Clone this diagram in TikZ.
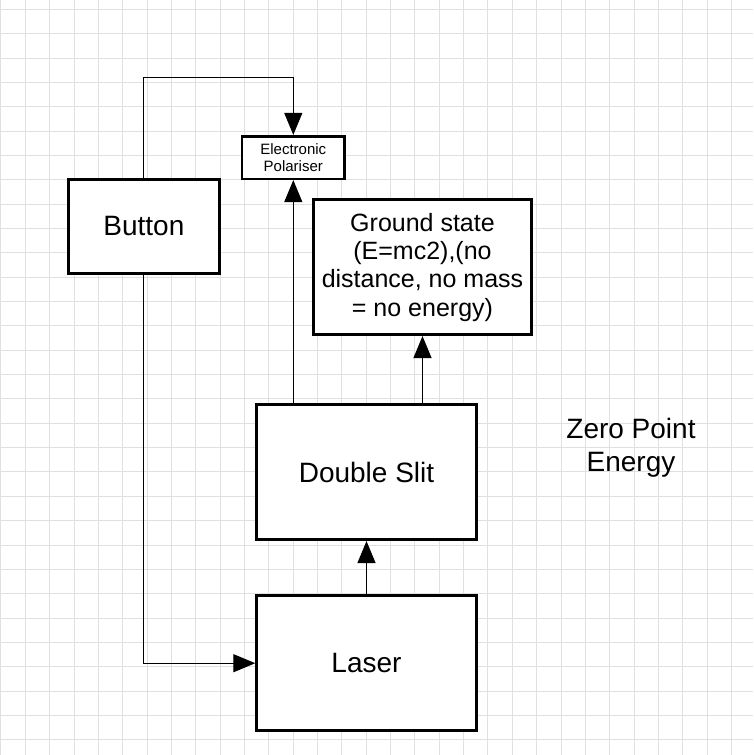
\documentclass[tikz,border=0pt]{standalone}
\usepackage{fontspec}
\setmainfont{Liberation Sans}
\usetikzlibrary{arrows.meta,calc}
\tikzset{
  gridline/.style={draw=black!12, line width=1pt},
  blk/.style={draw=black, line width=3pt, fill=white, inner sep=2pt, align=center,
    font=\fontsize{28}{32.7}\selectfont},
  conn/.style={draw=black, line width=1.1pt, -{Triangle[length=22pt,width=18pt]}},
  plain/.style={draw=black, line width=1.1pt}
}
\begin{document}
\begin{tikzpicture}[x=1pt,y=-1pt]
\useasboundingbox (0,0) rectangle (753,755);
\fill[white] (0,0) rectangle (753,755);
% grid
\foreach \i in {-1,...,30} {\draw[gridline] ({25.3+24.35*\i},0) -- ({25.3+24.35*\i},755);}
\foreach \j in {0,...,30} {\draw[gridline] (0,{9.3+24.35*\j}) -- (753,{9.3+24.35*\j});}
% nodes
\node[blk, minimum width=150.7pt, minimum height=93.4pt] (btn) at (143.85,226.5) {Button};
\node[blk, line width=2.6pt, minimum width=102.3pt, minimum height=42.6pt,
  font=\fontsize{15}{17.4}\selectfont] (pol) at (293.3,157.5) {Electronic\\Polariser};
\node[blk, minimum width=218.6pt, minimum height=134.7pt,
  font=\fontsize{25}{28.3}\selectfont] (gs) at (422.5,267.2)
  {Ground state\\(E=mc2),(no\\distance, no mass\\= no energy)};
\node[blk, minimum width=219.4pt, minimum height=134.7pt] (ds) at (366.5,472.2) {Double Slit};
\node[blk, minimum width=219.4pt, minimum height=134.7pt] (laser) at (366.5,663.2) {Laser};
\node[align=center, inner sep=0pt, font=\fontsize{28}{32.7}\selectfont] (zpe) at (631,448) {Zero Point\\Energy};
\coordinate (topy) at (0,77.3);
% connectors
\draw[conn] (btn.north) -- (btn.north |- topy) -| (pol.north);
\draw[conn] (ds.north -| pol.south) -- (pol.south);
\draw[conn] (ds.north -| gs.south) -- (gs.south);
\draw[conn] (laser.north) -- (ds.south);
\draw[conn] (btn.south) |- (laser.west);
\end{tikzpicture}
\end{document}
